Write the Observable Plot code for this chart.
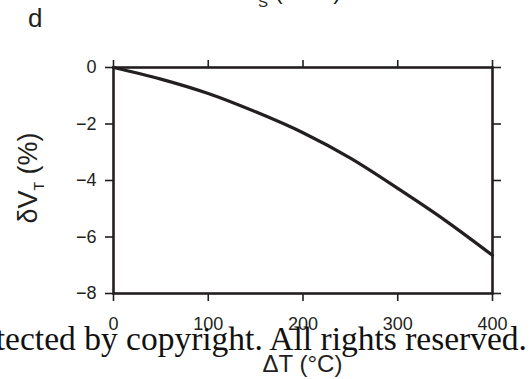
<!DOCTYPE html>
<html>
<head>
<meta charset="utf-8">
<script src="https://cdn.jsdelivr.net/npm/d3@7"></script>
<script src="https://cdn.jsdelivr.net/npm/@observablehq/plot@0.6"></script>
<style>
  html, body { margin: 0; padding: 0; background: #fff; overflow: hidden; }
  #chart { position: relative; width: 531px; height: 379px; overflow: hidden; }
</style>
</head>
<body>
<div id="chart"></div>
<script>
// Temperature perturbation (°C) and the resulting shift in velocity (%)
const temperature = [0, 50, 100, 150, 200, 250, 300, 350, 400];
const deltaVT = [0, -0.41, -0.92, -1.57, -2.31, -3.21, -4.28, -5.41, -6.65];

// Axis ticks
const xTicks = [0, 100, 200, 300, 400];
const yTicks = [0, -2, -4, -6, -8];

const ink = "#231f20";
const rows = temperature.map((t, i) => ({t, v: deltaVT[i]}));

const plot = Plot.plot({
  width: 531,
  height: 379,
  marginLeft: 113,
  marginRight: 39,
  marginTop: 67,
  marginBottom: 86,
  style: {
    fontFamily: "'Liberation Sans', Arial, sans-serif",
    fontSize: "18px",
    color: ink,
    background: "#fff",
    overflow: "visible"
  },
  x: {domain: [0, 400]},
  y: {domain: [-8, 0]},
  marks: [
    Plot.axisX(xTicks, {anchor: "bottom", tickSize: 8, tickPadding: 16, label: null, strokeWidth: 1.6, stroke: ink, fill: ink}),
    Plot.axisX(xTicks, {anchor: "top", tickSize: 8, tickFormat: () => "", label: null, strokeWidth: 1.6, stroke: ink}),
    Plot.axisY(yTicks, {anchor: "left", tickSize: 8, tickPadding: 9, label: null, strokeWidth: 1.6, stroke: ink, fill: ink}),
    Plot.axisY(yTicks, {anchor: "right", tickSize: 8, tickFormat: () => "", label: null, strokeWidth: 1.6, stroke: ink}),
    Plot.frame({stroke: ink, strokeWidth: 2.6}),
    Plot.line(rows, {x: "t", y: "v", stroke: ink, strokeWidth: 3.2, curve: "monotone-x"})
  ]
});

document.getElementById("chart").appendChild(plot);

// Titles and labels
const svg = d3.select(plot);
const sans = "'Liberation Sans', Arial, sans-serif";

// Label of the panel above, mostly outside the view
const aboveLabel = svg.append("text")
  .attr("x", 242).attr("y", -1.5)
  .attr("text-anchor", "start")
  .attr("font-family", sans).attr("font-size", 24).attr("fill", ink);
aboveLabel.append("tspan").text("V");
aboveLabel.append("tspan").attr("font-size", 15).attr("dy", 8).text("S");
aboveLabel.append("tspan").attr("dy", -8).text(" (km/s)");

// Panel letter
svg.append("text")
  .attr("x", 28).attr("y", 27)
  .attr("text-anchor", "start")
  .attr("font-family", sans).attr("font-size", 26).attr("fill", ink)
  .text("d");

// Y axis label
const yLabel = svg.append("text")
  .attr("transform", "translate(37,178) rotate(-90)")
  .attr("text-anchor", "middle")
  .attr("font-family", sans).attr("font-size", 27).attr("fill", ink);
yLabel.append("tspan").text("δV");
yLabel.append("tspan").attr("font-size", 14).attr("dy", 7).text("T");
yLabel.append("tspan").attr("dy", -7).text(" (%)");

// X axis label
svg.append("text")
  .attr("x", 302.5).attr("y", 371.5)
  .attr("text-anchor", "middle")
  .attr("font-family", sans).attr("font-size", 24).attr("fill", ink)
  .text("ΔT (°C)");

// Copyright notice across the lower edge
svg.append("text")
  .attr("x", 527).attr("y", 350)
  .attr("text-anchor", "end")
  .attr("font-family", "'Liberation Serif', 'Times New Roman', serif")
  .attr("font-size", 33.5).attr("fill", "#111")
  .text("This content is protected by copyright. All rights reserved.");
</script>
</body>
</html>
